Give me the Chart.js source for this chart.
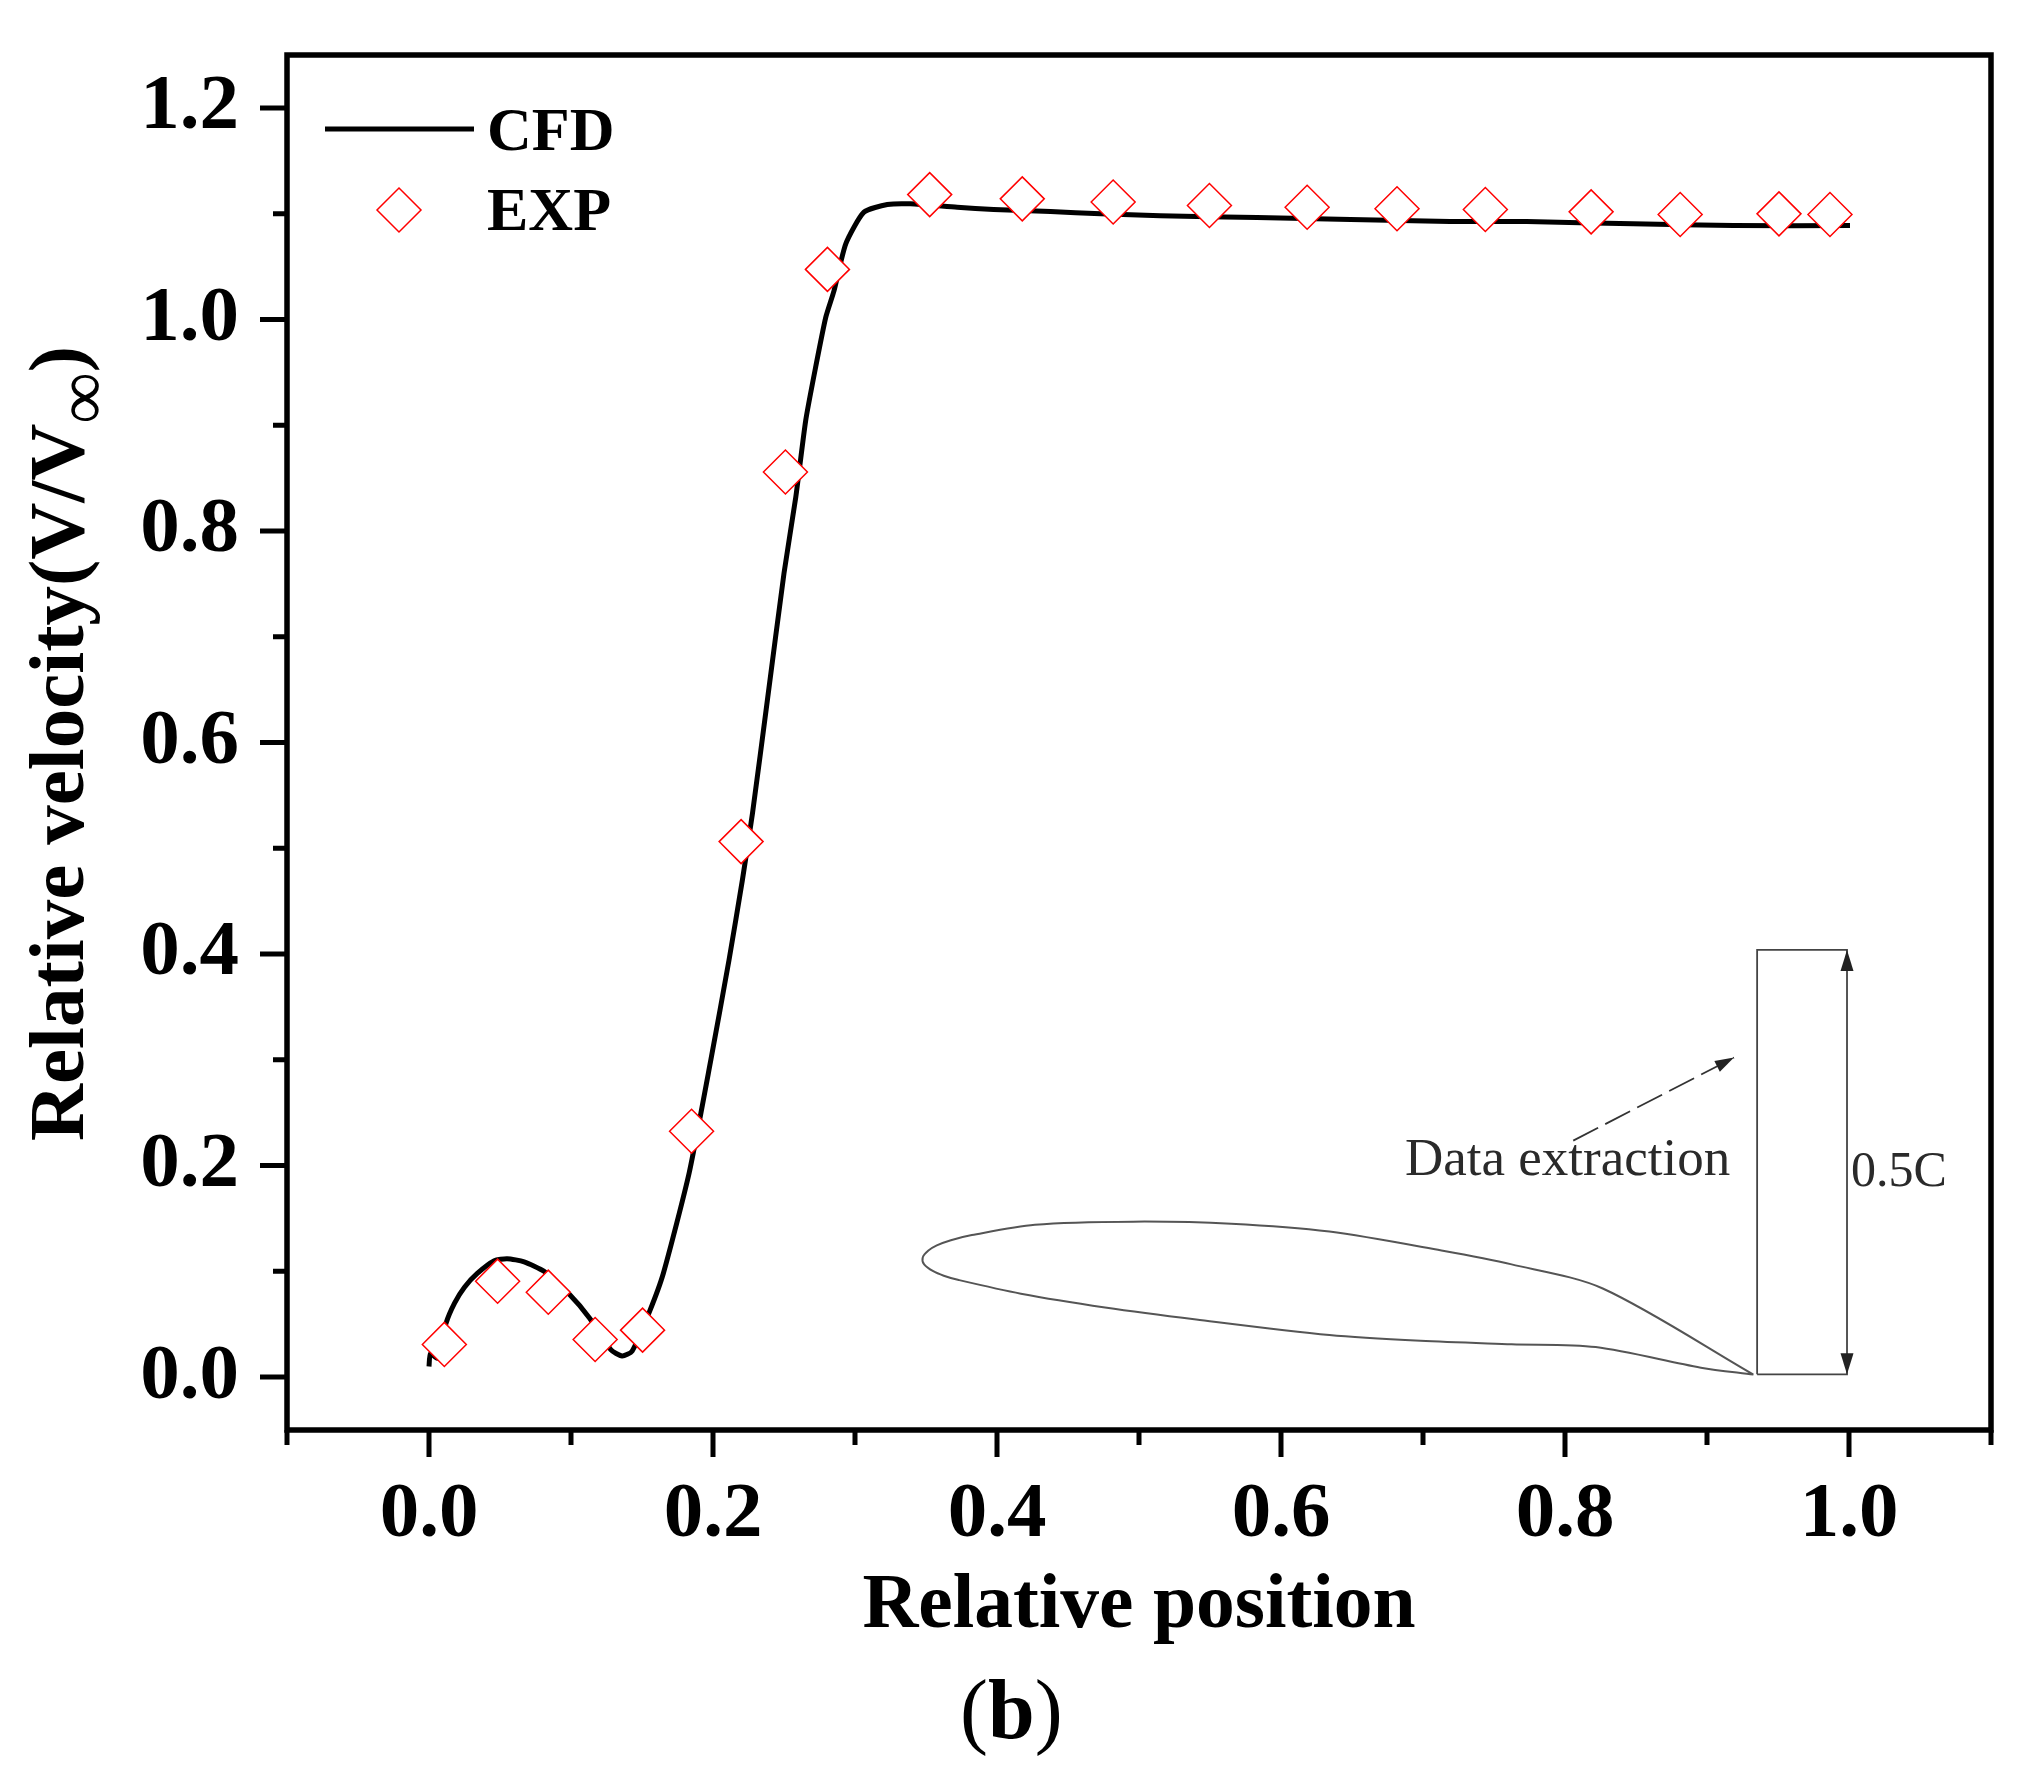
<!DOCTYPE html>
<html>
<head>
<meta charset="utf-8">
<style>html,body{margin:0;padding:0;background:#fff}#w{width:2021px;height:1781px;position:relative}</style>
<script src="https://cdn.jsdelivr.net/npm/chart.js@4"></script>
</head>
<body>
<div id="w"><canvas id="c" width="2021" height="1781"></canvas></div>
<script>
const cfdX = [0,0.001,0.006,0.012,0.018,0.025,0.034,0.046,0.055,0.067,0.081,0.099,0.113,0.128,0.136,0.143,0.155,0.165,0.1832,0.1985,0.2113,0.2207,0.2278,0.2383,0.250,0.2583,0.2653,0.2723,0.2794,0.2852,0.2935,0.3063,0.3228,0.339,0.372,0.3976,0.4377,0.473,0.515,0.583,0.649,0.719,0.773,0.848,0.9186,1.0007];
const cfdY = [0.010,0.022,0.018,0.051,0.070,0.085,0.098,0.110,0.112,0.109,0.100,0.078,0.056,0.026,0.020,0.0245,0.061,0.098,0.193,0.300,0.3945,0.470,0.533,0.640,0.760,0.832,0.9046,0.955,1.002,1.027,1.0715,1.1014,1.1086,1.1093,1.106,1.104,1.102,1.0999,1.098,1.0963,1.0945,1.0925,1.0925,1.0904,1.0887,1.0887];
const expX = [0.0108,0.0483,0.084,0.117,0.1504,0.1849,0.2198,0.251,0.2806,0.3526,0.4178,0.4818,0.5496,0.6184,0.6817,0.7439,0.8184,0.8811,0.9507,0.9866];
const expY = [0.0309,0.0907,0.0803,0.0356,0.0444,0.2324,0.5063,0.8558,1.0473,1.118,1.114,1.111,1.1077,1.106,1.1046,1.1039,1.1017,1.0992,1.0998,1.0992];
const airfoilX = [0.9327,0.8266,0.7624,0.7130,0.6341,0.5649,0.4958,0.4267,0.3823,0.3675,0.3576,0.3517,0.3477,0.3487,0.3551,0.3625,0.3724,0.4168,0.4761,0.5403,0.6341,0.6982,0.7624,0.8216,0.8957,0.9327];
const airfoilY = [0.0024,0.0838,0.1066,0.1197,0.1376,0.1451,0.1470,0.1441,0.1343,0.1294,0.1245,0.1196,0.1131,0.1066,0.1001,0.0959,0.0920,0.0789,0.0659,0.0545,0.0398,0.0343,0.0311,0.0284,0.0089,0.0024];
const boxX = [0.9353,0.9353,0.9986,0.9986,0.9353];
const boxY = [0.0026,0.4039,0.4039,0.0026,0.0026];
const pointerX = [0.8058,0.9190];
const pointerY = [0.2236,0.3021];
const xMajor = [0,0.2,0.4,0.6,0.8,1.0];
const xMinor = [-0.1,0.1,0.3,0.5,0.7,0.9,1.1];
const yMajor = [0,0.2,0.4,0.6,0.8,1.0,1.2];
const yMinor = [0.1,0.3,0.5,0.7,0.9,1.1];
const xTitle = 'Relative position';
const yTitleMain = 'Relative velocity(V/V';
const yTitleSub = '\u221E';
const yTitleEnd = ')';
const insetLabel = 'Data extraction';
const dimLabel = '0.5C';
const panelTag = ['(', 'b', ')'];
const seriesNames = ['CFD', 'EXP'];

const zip = (xs, ys) => xs.map((x, i) => ({x, y: ys[i]}));
const SERIF = '"Liberation Serif", "Times New Roman", serif';

function tri(ctx, x, y, ang, len, wid) {
  ctx.save();
  ctx.translate(x, y);
  ctx.rotate(ang);
  ctx.beginPath();
  ctx.moveTo(0, 0);
  ctx.lineTo(-len, -wid / 2);
  ctx.lineTo(-len, wid / 2);
  ctx.closePath();
  ctx.fill();
  ctx.restore();
}

const decor = {
  id: 'decor',
  afterDraw(chart) {
    const {ctx, chartArea: a, scales: {x, y}} = chart;
    ctx.save();
    ctx.strokeStyle = '#000';
    ctx.lineWidth = 5.5;
    ctx.strokeRect(a.left, a.top, a.right - a.left, a.bottom - a.top);
    ctx.lineWidth = 5;
    ctx.beginPath();
    xMajor.forEach(v => { const p = x.getPixelForValue(v); ctx.moveTo(p, a.bottom); ctx.lineTo(p, a.bottom + 27); });
    xMinor.forEach(v => { const p = x.getPixelForValue(v); ctx.moveTo(p, a.bottom); ctx.lineTo(p, a.bottom + 15); });
    yMajor.forEach(v => { const p = y.getPixelForValue(v); ctx.moveTo(a.left, p); ctx.lineTo(a.left - 27, p); });
    yMinor.forEach(v => { const p = y.getPixelForValue(v); ctx.moveTo(a.left, p); ctx.lineTo(a.left - 14, p); });
    ctx.stroke();

    ctx.fillStyle = '#222';
    const bx = x.getPixelForValue(boxX[2]);
    tri(ctx, bx, y.getPixelForValue(boxY[1]), -Math.PI / 2, 21, 13);
    tri(ctx, bx, y.getPixelForValue(boxY[0]), Math.PI / 2, 21, 13);
    const x0 = x.getPixelForValue(pointerX[0]), y0 = y.getPixelForValue(pointerY[0]);
    const x1 = x.getPixelForValue(pointerX[1]), y1 = y.getPixelForValue(pointerY[1]);
    tri(ctx, x1, y1, Math.atan2(y1 - y0, x1 - x0), 19, 12);

    ctx.textAlign = 'left';
    ctx.textBaseline = 'alphabetic';
    ctx.fillStyle = '#2a2a2a';
    ctx.font = '53px ' + SERIF;
    ctx.fillText(insetLabel, 1405, 1175);
    ctx.font = '50px ' + SERIF;
    ctx.fillText(dimLabel, 1851, 1186);

    ctx.fillStyle = '#000';
    ctx.font = 'bold 62px ' + SERIF;
    ctx.fillText(seriesNames[0], 487, 150);
    ctx.fillText(seriesNames[1], 487, 230);
    ctx.lineWidth = 5;
    ctx.beginPath(); ctx.moveTo(325, 129); ctx.lineTo(474, 129); ctx.stroke();
    ctx.strokeStyle = '#ff0000';
    ctx.lineWidth = 1.5;
    ctx.beginPath();
    ctx.moveTo(399, 188); ctx.lineTo(421, 210); ctx.lineTo(399, 232); ctx.lineTo(377, 210); ctx.closePath();
    ctx.stroke();

    ctx.save();
    ctx.translate(83, 1141);
    ctx.rotate(-Math.PI / 2);
    ctx.fillStyle = '#000';
    ctx.font = 'bold 79px ' + SERIF;
    ctx.fillText(yTitleMain, 0, 0);
    let w = ctx.measureText(yTitleMain).width;
    ctx.font = '72px ' + SERIF;
    ctx.fillText(yTitleSub, w, 23);
    w += ctx.measureText(yTitleSub).width;
    ctx.font = 'bold 79px ' + SERIF;
    ctx.fillText(yTitleEnd, w, 0);
    ctx.restore();

    let px = 960;
    ctx.fillStyle = '#000';
    panelTag.forEach((t, i) => {
      ctx.font = (i === 1 ? 'bold ' : '') + '84px ' + SERIF;
      ctx.fillText(t, px, 1738);
      px += ctx.measureText(t).width;
    });
    ctx.restore();
  }
};

new Chart(document.getElementById('c'), {
  type: 'scatter',
  data: {
    datasets: [
      {label: seriesNames[1], data: zip(expX, expY), order: 0, showLine: false, pointStyle: 'rectRot', pointRadius: 22, pointBorderWidth: 1.5, pointBorderColor: '#ff0000', pointBackgroundColor: '#ffffff'},
      {label: seriesNames[0], data: zip(cfdX, cfdY), order: 1, showLine: true, borderColor: '#000', borderWidth: 5, pointRadius: 0, tension: 0.2, borderJoinStyle: 'round', fill: false},
      {label: 'airfoil', data: zip(airfoilX, airfoilY), order: 2, showLine: true, borderColor: '#555', borderWidth: 2, pointRadius: 0, tension: 0.3, fill: false},
      {label: 'extraction line', data: zip(boxX, boxY), order: 2, showLine: true, borderColor: '#444', borderWidth: 1.8, pointRadius: 0, tension: 0, fill: false},
      {label: 'pointer', data: zip(pointerX, pointerY), order: 2, showLine: true, borderColor: '#333', borderWidth: 1.8, borderDash: [28, 8], pointRadius: 0, tension: 0, fill: false}
    ]
  },
  plugins: [decor],
  options: {
    responsive: false,
    animation: false,
    layout: {autoPadding: false, padding: {left: 0, top: 55, right: 30, bottom: 0}},
    plugins: {legend: {display: false}, tooltip: {enabled: false}, title: {display: false}},
    scales: {
      x: {
        type: 'linear', min: -0.1, max: 1.1,
        grid: {display: false, drawTicks: false}, border: {display: false},
        afterBuildTicks: s => { s.ticks = xMajor.map(v => ({value: v})); },
        afterFit: s => { s.height = 351; s.paddingLeft = 0; s.paddingRight = 0; },
        ticks: {autoSkip: false, maxRotation: 0, padding: 46, color: '#000', font: {family: SERIF, size: 79, weight: 'bold', lineHeight: 1}, callback: v => v.toFixed(1)},
        title: {display: true, text: xTitle, color: '#000', font: {family: SERIF, size: 77.5, weight: 'bold', lineHeight: 1}, padding: {top: 0, bottom: 135}}
      },
      y: {
        type: 'linear', min: -0.05, max: 1.25,
        grid: {display: false, drawTicks: false}, border: {display: false},
        afterBuildTicks: s => { s.ticks = yMajor.map(v => ({value: v})); },
        afterFit: s => { s.width = 287; s.paddingTop = 0; s.paddingBottom = 0; },
        ticks: {autoSkip: false, padding: 48, color: '#000', font: {family: SERIF, size: 79, weight: 'bold', lineHeight: 1}, callback: v => v.toFixed(1)}
      }
    }
  }
});
</script>
</body>
</html>
